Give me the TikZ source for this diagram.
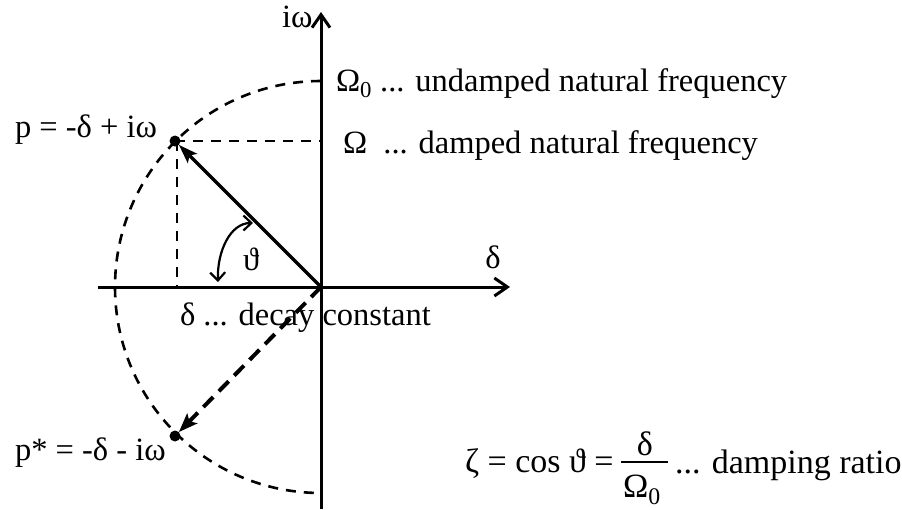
\documentclass[tikz,border=0pt]{standalone}
\usepackage{fontspec}
\setmainfont{Liberation Serif}
\usetikzlibrary{arrows.meta}
\begin{document}
\begin{tikzpicture}[x=1pt,y=-1pt,
  every node/.style={font=\fontsize{32.5}{39}\selectfont, inner sep=0pt, outer sep=0pt},
  lbl/.style={anchor=base west},
  bigtext/.style={font=\fontsize{34}{40}\selectfont},
  axisline/.style={line width=3pt, -{Straight Barb[length=13pt,width=18pt]}},
  dsh/.style={line width=2.6pt, dash pattern=on 10pt off 8pt},
  vec/.style={line width=3.4pt, -{Stealth[length=19pt,width=13pt,inset=4pt]}},
  dvec/.style={line width=4pt, dash pattern=on 14pt off 8pt, -{Stealth[length=19pt,width=14pt,inset=4pt]}},
  anglearrow/.style={line width=2.2pt, {Straight Barb[length=8pt,width=15pt]}-{Straight Barb[length=8pt,width=15pt]}},
  dotnode/.style={circle, fill=black, minimum size=11pt, inner sep=0pt},
]
\fill[white] (0,0) rectangle (902,509);
\useasboundingbox (0,0) rectangle (902,509);

% coordinates
\coordinate (O) at (321,287);
\coordinate (ytop) at (321,12);
\coordinate (ybot) at (321,509);
\coordinate (xl) at (98,287);
\coordinate (xr) at (510,287);
\coordinate (arcstart) at (321,81);
\coordinate (th1) at (253,223);
\coordinate (th2) at (218,282);
\coordinate (fracL) at (621,462);
\coordinate (fracR) at (668,462);

\node[dotnode] (p) at (175,141) {};
\node[dotnode] (ps) at (175,436) {};

% dashed circle arc
\draw[dsh] (arcstart) arc[start angle=-90, end angle=-270, radius=206];

% projections
\draw[dsh] (p.center) -- (p.center -| O);
\draw[dsh] ([xshift=2pt]p.center) -- ([xshift=2pt]p.center |- O);

% axes
\draw[axisline] (xl) -- (xr);
\draw[axisline] (ybot) -- (ytop);

% vectors
\draw[vec] (O) -- (p);
\draw[dvec] (O) -- (ps);

% angle
\draw[anglearrow] (th1) .. controls (230,223) and (217,252) .. (th2);
\node[lbl] (theta) at (243,270) {ϑ};

% labels
\node[lbl] (liw) at (282,27) {iω};
\node[anchor=base] (ldelta) at (493,268) {δ};
\node[lbl] (lp) at (15,137) {p = -δ + iω};
\node[lbl] (lps) at (15,460) {p* = -δ - iω};
\node[lbl] (lO0) at (336,91) {Ω\textsubscript{0} ... undamped natural frequency};
\node[lbl] (lO) at (343,153) {Ω\ \ ... damped natural frequency};
\node[lbl] (ldc) at (180,325) {δ ... decay constant};

% formula
\node[lbl, bigtext] (zeta) at (465,472) {ζ = cos ϑ =};
\node[anchor=base, bigtext] (num) at (645,455) {δ};
\draw[line width=2pt] (fracL) -- (fracR);
\node[lbl, bigtext] (den) at (623,497) {Ω\textsubscript{0}};
\node[lbl, bigtext] (dr) at (675,473) {... damping ratio};
\end{tikzpicture}
\end{document}
